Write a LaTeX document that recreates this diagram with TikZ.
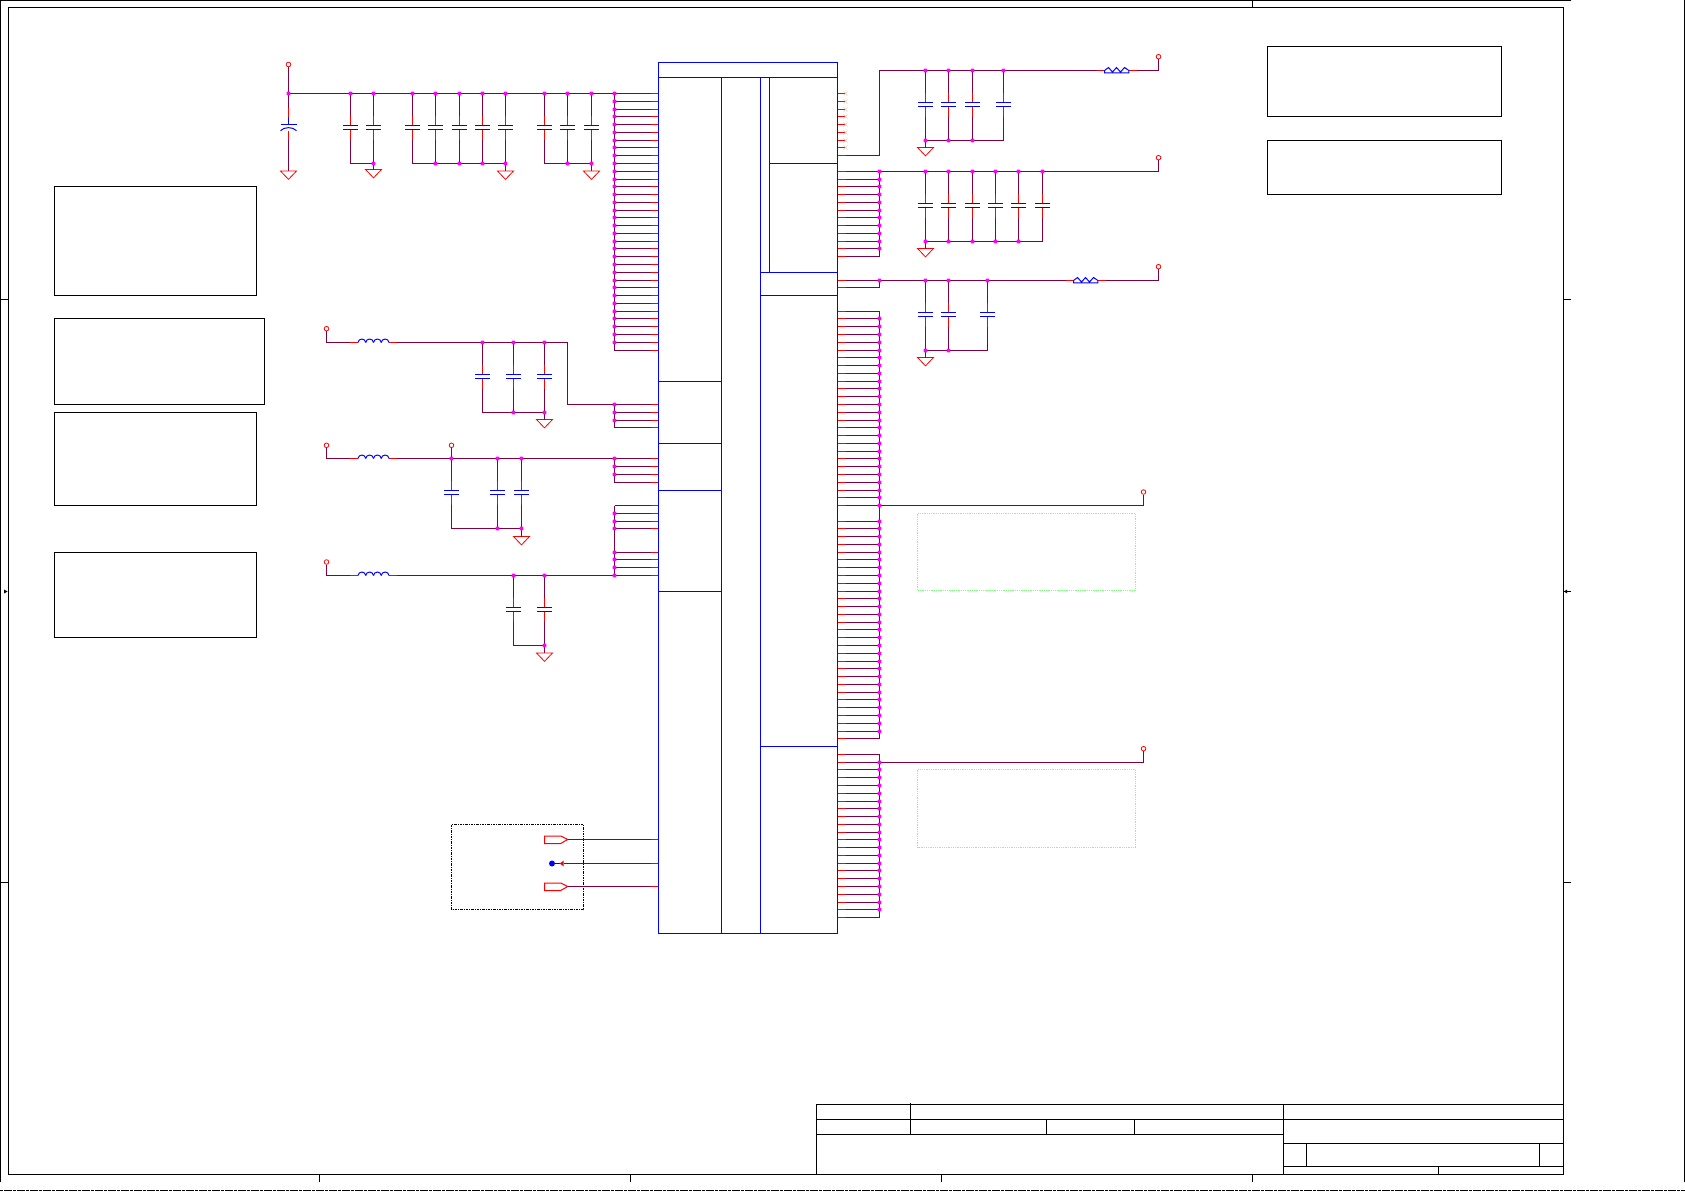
\documentclass[tikz,border=0pt]{standalone}
\usetikzlibrary{calc}
\definecolor{netcol}{RGB}{128,0,64}
\definecolor{ncmark}{RGB}{225,205,190}
\definecolor{junccol}{RGB}{255,0,255}
\definecolor{notecol}{RGB}{128,255,128}
\tikzset{
	wire/.style={netcol,line width=1pt},
	stub/.style={red,line width=1pt},
	partline/.style={blue,line width=1pt},
	plate/.style={blue,line width=1pt},
	frameline/.style={black,line width=1pt},
	junc/.style={rectangle,rounded corners=0.8pt,fill=junccol,inner sep=0pt,minimum size=3.6pt},
	pwrpin/.style={circle,draw=red,fill=white,line width=0.8pt,inner sep=0pt,minimum size=4.6pt},
	gndline/.style={red,line width=0.8pt},
	notegreen/.style={color=notecol,line width=0.8pt,densely dotted},
	groupbox/.style={black,line width=0.8pt,dash pattern=on 2.5pt off 1pt on 1pt off 1pt},
}
\newcommand{\capv}[4]{%
	\coordinate (#1-t) at (#2,#3);
	\coordinate (#1-b) at (#2,#4);
	\coordinate (#1-m) at (#2,{(#3+#4)/2-1});
	\draw[wire] (#1-t) -- ($(#1-m)+(0,-12)$);
	\draw[wire] ($(#1-m)+(0,12)$) -- (#1-b);
	\draw[stub] ($(#1-m)+(0,-12)$) -- ($(#1-m)+(0,-2)$);
	\draw[stub] ($(#1-m)+(0,2)$) -- ($(#1-m)+(0,12)$);
	\draw[plate] ($(#1-m)+(-7.5,-2)$) -- +(15,0);
	\draw[plate] ($(#1-m)+(-7.5,2)$) -- +(15,0);
}
\newcommand{\gnd}[3]{%
	\coordinate (#1) at (#2,#3);
	\draw[gndline] (#1) ++(-8,0) -- ++(16,0) -- ++(-8,8.4) -- cycle;
}
\newcommand{\pwrterm}[3]{\node[pwrpin] (#1) at (#2,#3) {};}
\newcommand{\coil}[3]{%
	\coordinate (#1-a) at ({#2-8},#3);
	\coordinate (#1-l) at (#2,#3);
	\coordinate (#1-r) at ({#2+31},#3);
	\coordinate (#1-b) at ({#2+39},#3);
	\draw[stub] (#1-a) -- (#1-l);
	\draw[stub] (#1-r) -- (#1-b);
	\foreach \k in {0,...,3}
		\draw[partline] ({#2+7.75*\k},#3) .. controls +(0.5,-4.6) and +(-0.5,-4.6) .. ({#2+7.75*(\k+1)},#3);
}
\newcommand{\resbox}[3]{%
	\coordinate (#1-a) at ({#2-8},#3);
	\coordinate (#1-l) at (#2,#3);
	\coordinate (#1-r) at ({#2+24.4},#3);
	\coordinate (#1-b) at ({#2+32.4},#3);
	\draw[stub] (#1-a) -- (#1-l);
	\draw[stub] (#1-r) -- (#1-b);
	\draw[partline] (#1-l) ++(0,2.3) -- ++(0,-2.3) -- ++(4,-3) -- ++(4,4.5) -- ++(4,-4.5) -- ++(4,4.5) -- ++(4,-4.5) -- ++(4.4,3) -- ++(0,2.3) -- cycle;
}
\newcommand{\offpage}[2]{%
	\coordinate (#1) at (567.7,#2);
	\coordinate (#1-p) at (658.5,#2);
	\draw[stub] (544.5,{#2-3.5}) -- (560.7,{#2-3.5}) -- (#1) -- (560.7,{#2+4}) -- (544.5,{#2+4}) -- cycle;
	\draw[wire] (#1) -- (#1-p);
	\draw[stub] (#1-p) -- +(-8,0);
}
\begin{document}
\begin{tikzpicture}[x=1pt,y=-1pt]
\useasboundingbox (0,0) rectangle (1685,1191);

\foreach \n in {0,...,106} {
	\pgfmathsetmacro\rowy{floor(93.5+7.775*\n)+0.5}
	\coordinate (pL\n) at (658.5,\rowy);
	\coordinate (jL\n) at (614.5,\rowy);
	\coordinate (pR\n) at (837.5,\rowy);
	\coordinate (jR\n) at (879.5,\rowy);
}

% sheet frame
\draw[frameline] (8.5,7.5) rectangle (1563.5,1174.5);
\draw[frameline] (1571,0.5) -- (0.5,0.5) -- (0.5,1182);
\draw[frameline] (1684.5,0) -- (1684.5,1182);
\draw[black,line width=0.8pt,dash pattern=on 3pt off 1pt on 8pt off 1pt] (0,1190.5) -- (1685,1190.5);
\foreach \tx in {319.5,630.5,941.5,1252.5} \draw[frameline] (\tx,1174.5) -- (\tx,1182);
\draw[frameline] (1252.5,0.5) -- (1252.5,7.5);
\foreach \ty in {299.5,882.5} {
	\draw[frameline] (0.5,\ty) -- (8.5,\ty);
	\draw[frameline] (1563.5,\ty) -- (1571,\ty);
}
\draw[frameline] (1563.5,591.5) -- (1571,591.5);
\fill (1564,591.5) -- (1567,589.5) -- (1567,593.5) -- cycle;
\fill (7.5,591.5) -- (4,589.5) -- (4,593.5) -- cycle;

% title block
\draw[frameline] (816.5,1104.5) rectangle (1563.5,1174.5);
\draw[frameline] (816.5,1119.5) -- (1563.5,1119.5);
\draw[frameline] (816.5,1134.5) -- (1283.5,1134.5);
\draw[frameline] (910.5,1103) -- (910.5,1134.5);
\draw[frameline] (1046.5,1119.5) -- (1046.5,1134.5);
\draw[frameline] (1134.5,1119.5) -- (1134.5,1134.5);
\draw[frameline] (1283.5,1104.5) -- (1283.5,1174.5);
\draw[frameline] (1283.5,1143.5) -- (1563.5,1143.5);
\draw[frameline] (1283.5,1166.5) -- (1563.5,1166.5);
\draw[frameline,line width=0.7pt] (1306.5,1143.5) -- (1306.5,1166.5);
\draw[frameline] (1539.5,1143.5) -- (1539.5,1166.5);
\draw[frameline] (1438.5,1166.5) -- (1438.5,1174.5);

% note boxes
\foreach \xa/\ya/\xb/\yb in {54.5/186.5/256.5/295.5,54.5/318.5/264.5/404.5,54.5/412.5/256.5/505.5,54.5/552.5/256.5/637.5,1267.5/46.5/1501.5/116.5,1267.5/140.5/1501.5/194.5}
	\draw[frameline] (\xa,\ya) rectangle (\xb,\yb);
\draw[notegreen] (917.5,513.5) rectangle (1135.5,590.5);
\draw[notegreen] (917.5,769.5) rectangle (1135.5,847.5);
\draw[groupbox] (451.5,824.5) rectangle (583.5,909.5);

% left side caps
\foreach \i/\cx in {1/350.5,2/373.5,3/412.5,4/435.5,5/459.5,6/482.5,7/505.5,8/544.5,9/567.5,10/591.5}
	{\capv{C\i}{\cx}{93.5}{163.5}}
\foreach \i/\cx in {11/482.5,12/513.5,13/544.5}
	{\capv{C\i}{\cx}{342.5}{412.5}}
\foreach \i/\cx in {14/451.5,15/497.5,16/521.5}
	{\capv{C\i}{\cx}{458.5}{528.5}}
\foreach \i/\cx in {17/513.5,18/544.5}
	{\capv{C\i}{\cx}{575.5}{645.5}}
% right side caps
\foreach \i/\cx in {21/925.5,22/948.5,23/972.5,24/1003.5}
	{\capv{C\i}{\cx}{70.5}{140.5}}
\foreach \i/\cx in {31/925.5,32/948.5,33/972.5,34/995.5,35/1018.5,36/1042.5}
	{\capv{C\i}{\cx}{171.5}{241.5}}
\foreach \i/\cx in {41/925.5,42/948.5,43/987.5}
	{\capv{C\i}{\cx}{280.5}{350.5}}

\draw[wire] (C1-b) -- (C2-b);
\draw[wire] (C3-b) -- (C7-b);
\draw[wire] (C8-b) -- (C10-b);
\draw[wire] (C11-b) -- (C13-b);
\draw[wire] (C14-b) -- (C16-b);
\draw[wire] (C17-b) -- (C18-b);
\draw[wire] (C21-b) -- (C24-b);
\draw[wire] (C31-b) -- (C36-b);
\draw[wire] (C41-b) -- (C43-b);

\gnd{G1}{288.5}{171}
\gnd{G2}{373.5}{169.5}
\gnd{G3}{505.5}{171}
\gnd{G4}{591.5}{171}
\gnd{G5}{544.5}{419.5}
\gnd{G6}{521.5}{536.5}
\gnd{G7}{544.5}{653}
\gnd{G8}{925.5}{147.5}
\gnd{G9}{925.5}{248.5}
\gnd{G10}{925.5}{357.5}
\draw[wire] (C2-b) -- (G2);
\draw[wire] (C7-b) -- (G3);
\draw[wire] (C10-b) -- (G4);
\draw[wire] (C13-b) -- (G5);
\draw[wire] (C16-b) -- (G6);
\draw[wire] (C18-b) -- (G7);
\draw[wire] (C21-b) -- (G8);
\draw[wire] (C31-b) -- (G9);
\draw[wire] (C41-b) -- (G10);

% polarized cap on the first rail
\coordinate (J1) at (288.5,93.5);
\coordinate (PCt) at (288.5,124.5);
\coordinate (PCb) at (288.5,130.5);
\pwrterm{T1}{288.5}{64.5}
\draw[wire] (T1.south) -- (J1) -- (288.5,108);
\draw[stub] (288.5,108) -- (288.5,117);
\draw[partline] (288.5,117) -- (PCt);
\draw[plate] ($(PCt)+(-8,0)$) -- +(16,0);
\draw[partline] (280.5,130.7) .. controls (284.5,126.6) and (292.5,126.6) .. (296.5,130.7);
\draw[stub] (PCb) -- (288.5,140);
\draw[wire] (288.5,140) -- (G1);

% power inputs
\pwrterm{T2}{326.5}{328.7}
\pwrterm{T3}{326.5}{445.3}
\pwrterm{T4}{326.5}{562}
\pwrterm{T10}{451.5}{445.3}
\pwrterm{T5}{1158.5}{56.7}
\pwrterm{T6}{1158.5}{157.7}
\pwrterm{T7}{1158.5}{266.7}
\pwrterm{T8}{1143.5}{492}
\pwrterm{T9}{1143.5}{748.7}
\coil{L1}{358}{342.5}
\coil{L2}{358}{458.5}
\coil{L3}{358}{575.5}
\resbox{R1}{1104.5}{70.5}
\resbox{R2}{1073.5}{280.5}
\coordinate (F1) at (567.5,342.5);

\draw[wire] (T2.south) |- (L1-a);
\draw[wire] (T3.south) |- (L2-a);
\draw[wire] (T4.south) |- (L3-a);
\draw[wire] (T10.south) -- (C14-t);
\draw[wire] (J1) -- (jL0);
\draw[wire] (L1-b) -- (F1) |- (jL40);
\draw[wire] (L2-b) -- (jL47);
\draw[wire] (L3-b) -- (jL62);
\draw[wire] (jL0) -- (jL33);
\draw[wire] (jL40) -- (jL43);
\draw[wire] (jL47) -- (jL50);
\draw[wire] (jL53) -- (jL62);
\draw[wire] (jR8) |- (R1-a);
\draw[wire] (R1-b) -| (T5.south);
\draw[wire] (jR10) -| (T6.south);
\draw[wire] (jR24) -- (R2-a);
\draw[wire] (R2-b) -| (T7.south);
\draw[wire] (jR53) -| (T8.south);
\draw[wire] (jR86) -| (T9.south);
\draw[wire] (jR10) -- (jR21);
\draw[wire] (jR24) -- (jR25);
\draw[wire] (jR28) -- (jR83);
\draw[wire] (jR85) -- (jR106);

% pin rows
\foreach \n in {0,...,33,40,41,42,43,47,48,49,50,53,54,55,56,59,60,61,62} {
	\draw[wire] (jL\n) -- (pL\n);
	\draw[stub] (pL\n) -- +(-8,0);
}
\foreach \n in {8,10,11,...,21,24,25,28,29,...,53,55,56,...,83,85,86,...,106} {
	\draw[wire] (jR\n) -- (pR\n);
	\draw[stub] (pR\n) -- +(8,0);
}
\foreach \n in {0,...,7} {
	\draw[stub] (pR\n) -- +(8,0);
	\draw[ncmark,line width=0.6pt] ($(pR\n)+(6,-2)$) -- +(4,4);
	\draw[ncmark,line width=0.6pt] ($(pR\n)+(6,2)$) -- +(4,-4);
}

\offpage{P1}{839.5}
\offpage{P3}{886.5}
\coordinate (P2) at (563.5,863.5);
\coordinate (P2-p) at (658.5,863.5);
\node[circle,fill=blue,inner sep=0pt,minimum size=6pt] (P2dot) at (552,863.5) {};
\draw[partline] (P2dot) -- (559.7,863.5);
\fill[red] (559.7,863.5) -- (563.5,860.7) -- (563.5,866.3) -- cycle;
\draw[wire] (P2) -- (P2-p);
\draw[stub] (P2-p) -- +(-8,0);

% main block
\draw[partline] (658.5,62.5) rectangle (837.5,933.5);
\draw[partline] (658.5,77.5) -- (837.5,77.5);
\draw[partline] (721.5,77.5) -- (721.5,933.5);
\draw[partline] (760.5,77.5) -- (760.5,933.5);
\draw[partline] (769.5,77.5) -- (769.5,272.5);
\draw[partline] (769.5,163.5) -- (837.5,163.5);
\draw[partline] (760.5,272.5) -- (837.5,272.5);
\draw[partline] (760.5,295.5) -- (837.5,295.5);
\draw[partline] (760.5,746.5) -- (837.5,746.5);
\foreach \sy in {381.5,443.5,490.5,591.5}
	\draw[partline] (658.5,\sy) -- (721.5,\sy);

% junction dots
\node[junc] (dJ1) at (J1) {};
\foreach \i in {1,...,18,21,22,23,24,31,32,33,34,35,36,41,42,43}
	\node[junc] (dT\i) at (C\i-t) {};
\foreach \i in {2,4,5,6,7,9,10,12,13,15,16,18,21,22,23,31,32,33,34,35,41,42}
	\node[junc] (dB\i) at (C\i-b) {};
\foreach \n in {0,...,32,40,41,42,47,48,49,54,55,56,59,60,61,62}
	\node[junc] (dL\n) at (jL\n) {};
\foreach \n in {10,11,...,20,24,29,30,...,53,55,56,...,82,86,87,...,105}
	\node[junc] (dR\n) at (jR\n) {};
\end{tikzpicture}
\end{document}
